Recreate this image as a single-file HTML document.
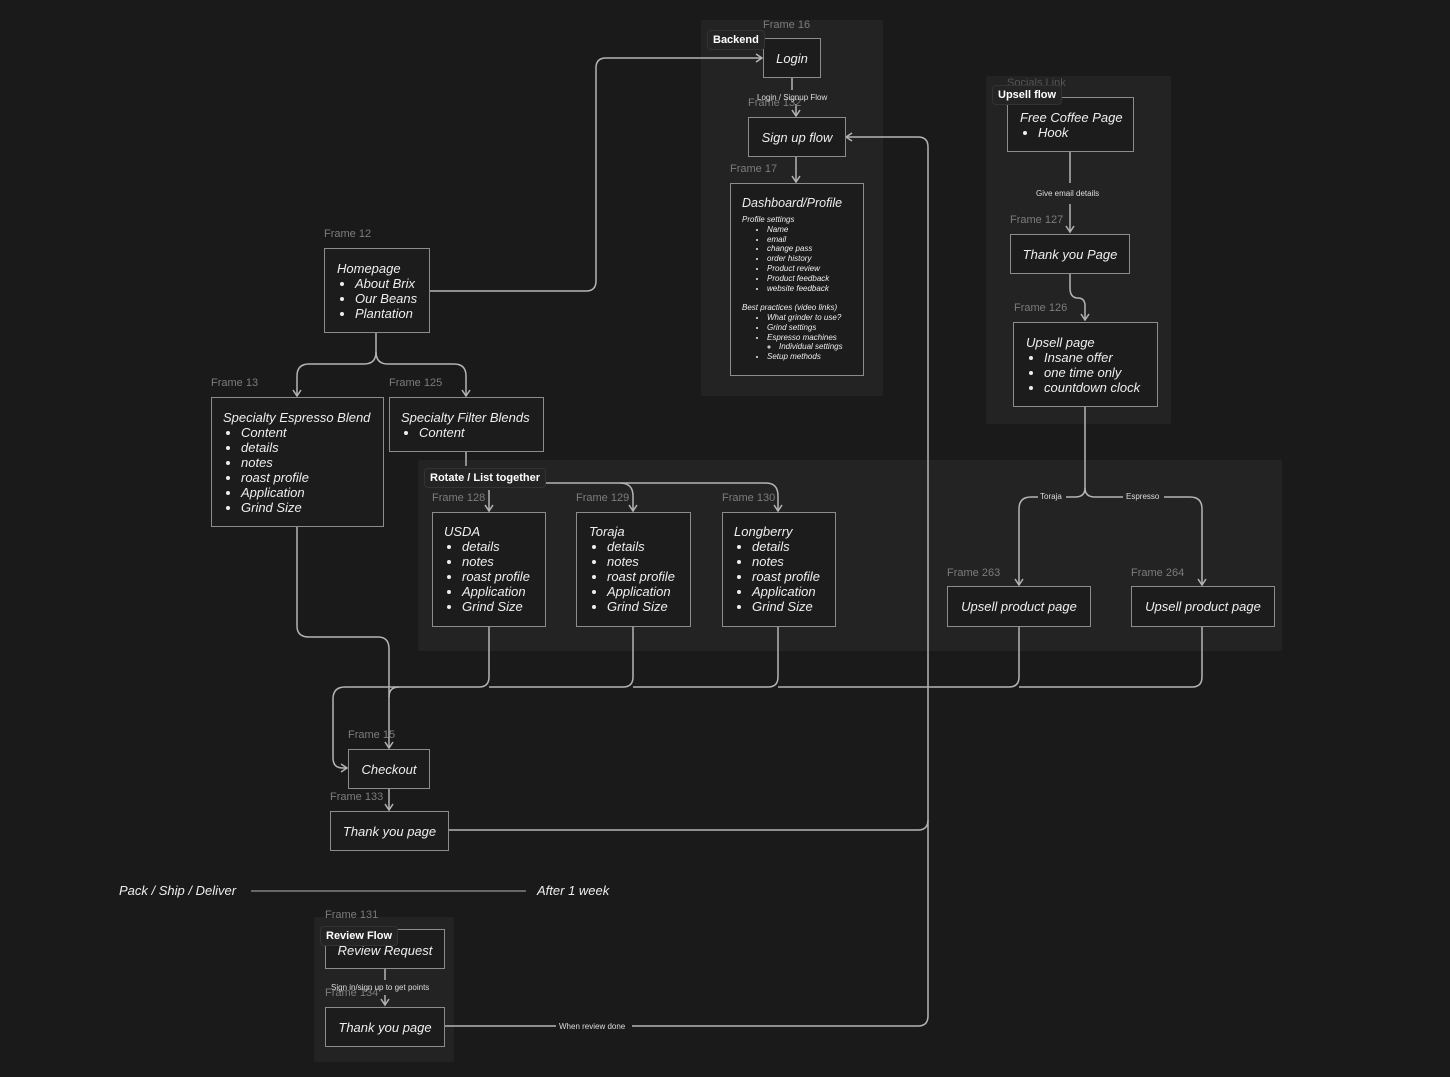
<!DOCTYPE html>
<html><head><meta charset="utf-8"><style>
html,body{margin:0;padding:0;}
body{width:1450px;height:1077px;background:#1a1a1a;position:relative;overflow:hidden;font-family:"Liberation Sans",sans-serif;}
.sec{position:absolute;background:#232323;border-radius:2px;}
.box{position:absolute;border:1px solid #8c8c8c;background:#1c1c1c;color:#eee;font-style:italic;font-size:13px;box-sizing:border-box;}
.c{display:flex;align-items:center;justify-content:center;}
.fl{position:absolute;color:#7c7c7c;font-size:11px;white-space:nowrap;}
.chip{position:absolute;background:#242424;border:1px solid #333;border-radius:4px;color:#fff;font-size:11px;font-weight:bold;padding:3px 5px;white-space:nowrap;}
.lbl{position:absolute;color:#ddd;font-size:8px;white-space:nowrap;background:transparent;}
ul{margin:0;padding-left:18px;}
li{line-height:15px;}
.t{line-height:15px;}
svg{position:absolute;left:0;top:0;}
.it{position:absolute;color:#eee;font-style:italic;font-size:13px;white-space:nowrap;}
</style></head><body>
<div class="sec" style="left:701px;top:20px;width:182px;height:376px"></div>
<div class="sec" style="left:986px;top:76px;width:185px;height:348px"></div>
<div class="sec" style="left:418px;top:460px;width:864px;height:191px"></div>
<div class="sec" style="left:314px;top:917px;width:140px;height:145px"></div>

<svg width="1450" height="1077" fill="none" stroke="#b4b4b4" stroke-width="1.5">
<defs><marker id="a" markerWidth="10" markerHeight="10" refX="8" refY="5" orient="auto" markerUnits="userSpaceOnUse"><path d="M2,1 L8,5 L2,9" fill="none" stroke="#b4b4b4" stroke-width="1.5"/></marker></defs>
<path d="M429,291 H586 Q596,291 596,281 V68 Q596,58 606,58 H762" marker-end="url(#a)"/>
<path d="M792,78 V90 M796,104 V116" marker-end="url(#a)"/>
<path d="M796,156 V182" marker-end="url(#a)"/>
<path d="M376,332 V352 Q376,364 364,364 H309 Q297,364 297,376 V396" marker-end="url(#a)"/>
<path d="M376,352 Q376,364 388,364 H454 Q466,364 466,376 V396" marker-end="url(#a)"/>
<path d="M466,451 V466"/>
<path d="M546,483 H620 Q633,483 633,496 V511" marker-end="url(#a)"/>
<path d="M620,483 H766 Q778,483 778,496 V511" marker-end="url(#a)"/>
<path d="M489,490 V511" marker-end="url(#a)"/>
<path d="M297,526 V626 Q297,637 309,637 H378 Q389,637 389,649 V748" marker-end="url(#a)"/>
<path d="M489,626 V677 Q489,687 479,687 H345 Q333,687 333,699 V758 Q333,768 343,768 H347" marker-end="url(#a)"/>
<path d="M399,687 Q389,687 389,697"/>
<path d="M633,626 V677 Q633,687 623,687 H489 M778,626 V677 Q778,687 768,687 H633 M1019,626 V677 Q1019,687 1009,687 H778 M1202,626 V677 Q1202,687 1192,687 H1019"/>
<path d="M389,788 V810" marker-end="url(#a)"/>
<path d="M448,830 H918 Q928,830 928,820 V147 Q928,137 918,137 H846" marker-end="url(#a)"/>
<path d="M444,1026 H556 M632,1026 H918 Q928,1026 928,1016 V820"/>
<path d="M1070,151 V183 M1070,204 V232" marker-end="url(#a)"/>
<path d="M1070,273 V288 Q1070,298 1078,298 Q1085,298 1085,306 V320" marker-end="url(#a)"/>
<path d="M1085,406 V488 Q1085,497 1075,497 H1066 M1038,497 H1031 Q1019,497 1019,509 V585" marker-end="url(#a)"/>
<path d="M1085,488 Q1085,497 1095,497 H1123 M1164,497 H1190 Q1202,497 1202,509 V585" marker-end="url(#a)"/>
<path d="M385,968 V980 M385,995 V1005" marker-end="url(#a)"/>
<path d="M251,891 H526" stroke-width="1"/>
</svg>

<div class="fl" style="left:763px;top:19px">Frame 16</div>
<div class="box c" style="left:763px;top:38px;width:58px;height:40px">Login</div>
<div class="chip" style="left:707px;top:30px">Backend</div>
<div class="fl" style="left:748px;top:97px">Frame 132</div>
<div class="lbl" style="left:757px;top:93px">Login / Signup Flow</div>
<div class="box c" style="left:748px;top:117px;width:98px;height:40px">Sign up flow</div>
<div class="fl" style="left:730px;top:163px">Frame 17</div>
<div class="box" style="left:730px;top:183px;width:134px;height:193px;padding:12px 0 0 11px;font-size:8px;line-height:9.8px">
<div style="font-size:12.5px;line-height:15px;margin-bottom:4px">Dashboard/Profile</div>
Profile settings<ul style="padding-left:25px;line-height:9.8px"><li style="line-height:9.8px">Name</li><li style="line-height:9.8px">email</li><li style="line-height:9.8px">change pass</li><li style="line-height:9.8px">order history</li><li style="line-height:9.8px">Product review</li><li style="line-height:9.8px">Product feedback</li><li style="line-height:9.8px">website feedback</li></ul>
<div style="height:9.8px"></div>Best practices (video links)<ul style="padding-left:25px"><li style="line-height:9.8px">What grinder to use?</li><li style="line-height:9.8px">Grind settings</li><li style="line-height:9.8px">Espresso machines<ul style="padding-left:12px"><li style="line-height:9.8px">Individual settings</li></ul></li><li style="line-height:9.8px">Setup methods</li></ul></div>

<div class="fl" style="left:1007px;top:77px;color:#555">Socials Link</div>
<div class="box" style="left:1007px;top:97px;width:127px;height:55px;padding:12px 0 0 12px"><div class="t">Free Coffee Page</div><ul><li>Hook</li></ul></div>
<div class="chip" style="left:992px;top:85px">Upsell flow</div>
<div class="lbl" style="left:1036px;top:189px">Give email details</div>
<div class="fl" style="left:1010px;top:214px">Frame 127</div>
<div class="box c" style="left:1010px;top:234px;width:120px;height:40px">Thank you Page</div>
<div class="fl" style="left:1014px;top:302px">Frame 126</div>
<div class="box" style="left:1013px;top:322px;width:145px;height:85px;padding:12px 0 0 12px"><div class="t">Upsell page</div><ul><li>Insane offer</li><li>one time only</li><li>countdown clock</li></ul></div>

<div class="fl" style="left:324px;top:228px">Frame 12</div>
<div class="box" style="left:324px;top:248px;width:106px;height:85px;padding:12px 0 0 12px"><div class="t">Homepage</div><ul><li>About Brix</li><li>Our Beans</li><li>Plantation</li></ul></div>
<div class="fl" style="left:211px;top:377px">Frame 13</div>
<div class="box" style="left:211px;top:397px;width:173px;height:130px;padding:12px 0 0 11px"><div class="t">Specialty Espresso Blend</div><ul><li>Content</li><li>details</li><li>notes</li><li>roast profile</li><li>Application</li><li>Grind Size</li></ul></div>
<div class="fl" style="left:389px;top:377px">Frame 125</div>
<div class="box" style="left:389px;top:397px;width:155px;height:55px;padding:12px 0 0 11px"><div class="t">Specialty Filter Blends</div><ul><li>Content</li></ul></div>

<div class="chip" style="left:424px;top:468px">Rotate / List together</div>
<div class="fl" style="left:432px;top:492px">Frame 128</div>
<div class="box" style="left:432px;top:512px;width:114px;height:115px;padding:11px 0 0 11px"><div class="t">USDA</div><ul><li>details</li><li>notes</li><li>roast profile</li><li>Application</li><li>Grind Size</li></ul></div>
<div class="fl" style="left:576px;top:492px">Frame 129</div>
<div class="box" style="left:576px;top:512px;width:115px;height:115px;padding:11px 0 0 12px"><div class="t">Toraja</div><ul><li>details</li><li>notes</li><li>roast profile</li><li>Application</li><li>Grind Size</li></ul></div>
<div class="fl" style="left:722px;top:492px">Frame 130</div>
<div class="box" style="left:722px;top:512px;width:114px;height:115px;padding:11px 0 0 11px"><div class="t">Longberry</div><ul><li>details</li><li>notes</li><li>roast profile</li><li>Application</li><li>Grind Size</li></ul></div>

<div class="lbl" style="left:1040px;top:492px">Toraja</div>
<div class="lbl" style="left:1126px;top:492px">Espresso</div>
<div class="fl" style="left:947px;top:567px">Frame 263</div>
<div class="box c" style="left:947px;top:586px;width:144px;height:41px">Upsell product page</div>
<div class="fl" style="left:1131px;top:567px">Frame 264</div>
<div class="box c" style="left:1131px;top:586px;width:144px;height:41px">Upsell product page</div>

<div class="fl" style="left:348px;top:729px">Frame 15</div>
<div class="box c" style="left:348px;top:749px;width:82px;height:40px">Checkout</div>
<div class="fl" style="left:330px;top:791px">Frame 133</div>
<div class="box c" style="left:330px;top:811px;width:119px;height:40px">Thank you page</div>

<div class="it" style="left:119px;top:883px">Pack / Ship / Deliver</div>
<div class="it" style="left:537px;top:883px">After 1 week</div>

<div class="fl" style="left:325px;top:909px">Frame 131</div>
<div class="box c" style="left:325px;top:929px;width:120px;height:40px;padding-top:2px">Review Request</div>
<div class="chip" style="left:320px;top:926px">Review Flow</div>
<div class="fl" style="left:325px;top:987px">Frame 134</div>
<div class="lbl" style="left:331px;top:983px">Sign in/sign up to get points</div>
<div class="box c" style="left:325px;top:1007px;width:120px;height:40px">Thank you page</div>
<div class="lbl" style="left:559px;top:1022px">When review done</div>
</body></html>
